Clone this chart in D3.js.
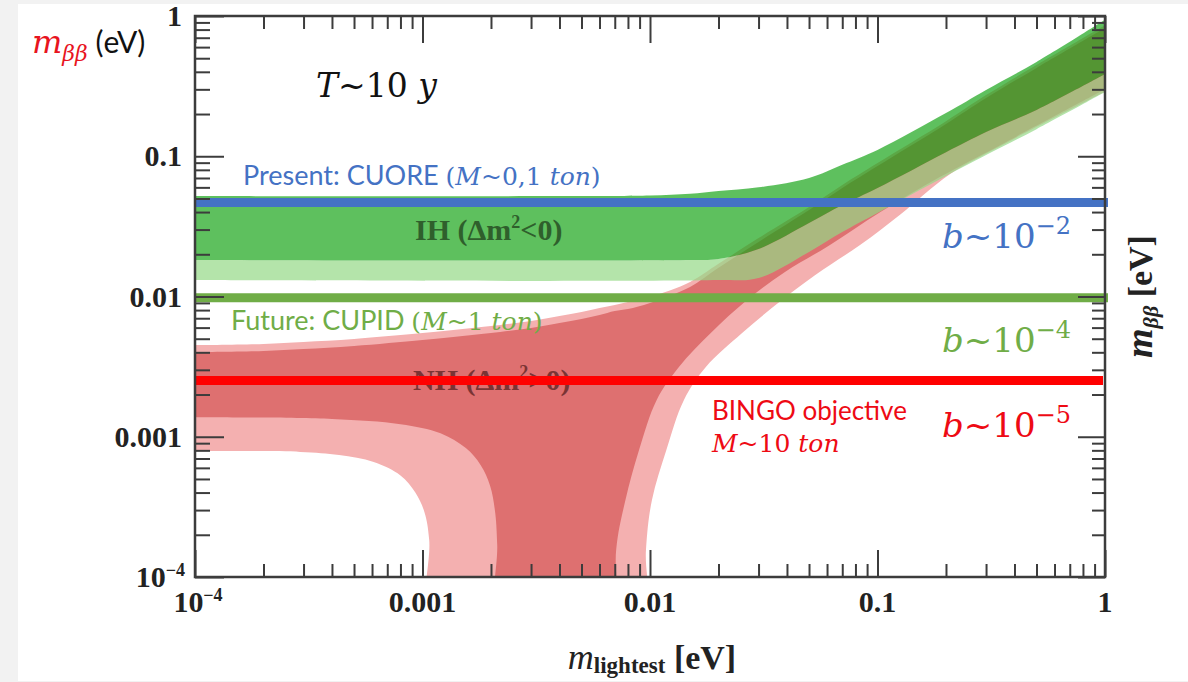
<!DOCTYPE html>
<html>
<head>
<meta charset="utf-8">
<script src="https://cdn.jsdelivr.net/npm/d3@7"></script>
<style>
  body { margin: 0; background: #f2f2f2; }
  svg { display: block; }
</style>
</head>
<body>
<svg id="chart" width="1188" height="682"></svg>
<script>
'use strict';

// ---- data (eV) ----
var majorTicks = [1e-4, 1e-3, 1e-2, 1e-1, 1];
var tickLabels = [['10', '\u22124'], ['0.001'], ['0.01'], ['0.1'], ['1']];

// inverted hierarchy band [m_lightest, m_bb]
var ihTop = [[1e-4, 0.052], [0.005, 0.052], [0.01, 0.0525], [0.015, 0.054], [0.02, 0.0565], [0.03, 0.060],
  [0.05, 0.070], [0.07, 0.087], [0.1, 0.111], [0.2, 0.203], [0.3, 0.297], [0.5, 0.47], [1, 0.94]];
var ihDarkLow = [[1e-4, 0.0182], [0.015, 0.0182], [0.02, 0.0185], [0.03, 0.0218], [0.05, 0.0334],
  [0.07, 0.0449], [0.1, 0.0594], [0.2, 0.107], [0.3, 0.149], [0.5, 0.214], [1, 0.386]];
var ihLightLow = [[1e-4, 0.0131], [0.02, 0.0131], [0.03, 0.01355], [0.05, 0.0208], [0.07, 0.0288],
  [0.1, 0.0394], [0.2, 0.0723], [0.3, 0.102], [0.5, 0.156], [1, 0.287]];

// normal hierarchy band
var nhLightTop = [[1e-4, 0.00451], [2e-4, 0.00459], [3e-4, 0.00474], [5e-4, 0.00498], [1e-3, 0.00549],
  [1.5e-3, 0.00586], [2e-3, 0.00616], [3e-3, 0.00669], [4e-3, 0.00726], [5e-3, 0.00775], [6e-3, 0.00828],
  [7e-3, 0.00869], [8e-3, 0.00914], [0.01, 0.00992], [0.015, 0.0127], [0.02, 0.0171], [0.03, 0.0261],
  [0.05, 0.0435], [0.07, 0.0624], [0.1, 0.0895], [0.2, 0.178], [0.3, 0.273], [0.5, 0.447], [1, 0.86]];
var nhDarkTop = [[1e-4, 0.00402], [2e-4, 0.00409], [3e-4, 0.00422], [5e-4, 0.00444], [1e-3, 0.0049],
  [1.5e-3, 0.00523], [2e-3, 0.00549], [3e-3, 0.00596], [4e-3, 0.00647], [5e-3, 0.00691], [6e-3, 0.00738],
  [7e-3, 0.00788], [8e-3, 0.00814], [0.01, 0.00899], [0.015, 0.0117], [0.02, 0.016], [0.03, 0.0245],
  [0.05, 0.0414], [0.07, 0.0594], [0.1, 0.0852], [0.2, 0.170], [0.3, 0.260], [0.5, 0.426], [1, 0.82]];
// lower edges drop through zero (below the axis) in the cancellation funnel
var nhDarkLow = [[1e-4, 0.00138], [4e-4, 0.00134], [8e-4, 0.00123], [1.2e-3, 0.00106], [1.55e-3, 0.00083],
  [1.8e-3, 0.00063], [1.98e-3, 0.00045], [2.08e-3, 0.0003], [2.13e-3, 0.00017], [2.15e-3, 1e-5],
  [6.8e-3, 1e-5], [7.1e-3, 0.000156], [7.8e-3, 0.000354], [8.95e-3, 0.000804], [0.0107, 0.00183],
  [0.0134, 0.00314], [0.0185, 0.00549], [0.0267, 0.00944], [0.0392, 0.01495], [0.0618, 0.0233],
  [0.103, 0.040], [0.188, 0.071], [0.346, 0.12], [1, 0.30]];
var nhLightLow = [[1e-4, 0.00079], [2.9e-4, 0.00078], [4.3e-4, 0.00074], [6.1e-4, 0.00066], [8e-4, 0.00053],
  [9.3e-4, 0.0004], [1.02e-3, 0.00029], [1.07e-3, 0.000184], [1.1e-3, 1e-5], [9.3e-3, 1e-5],
  [9.6e-3, 0.000156], [0.0102, 0.000354], [0.0118, 0.000804], [0.0141, 0.00183], [0.0176, 0.00314],
  [0.0254, 0.00549], [0.038, 0.00944], [0.0531, 0.0142], [0.0838, 0.0233], [0.126, 0.0385],
  [0.208, 0.0745], [0.346, 0.118], [1, 0.29]];

// sensitivity lines
var limitNames = ['CUORE', 'CUPID', 'BINGO'];
var limitValues = [0.0468, 0.0098, 0.00252];
var limitColors = ['#4472c4', '#70ad47', '#ff0000'];

// ---- layout ----
var svg = d3.select('#chart');
svg.append('rect').attr('x', 18).attr('y', 4).attr('width', 1170).attr('height', 677).attr('fill', '#fff');

var W = 910, H = 561;
var g = svg.append('g').attr('transform', 'translate(195,16)');

var x = d3.scaleLog().domain([1e-4, 1]).range([0, W]);
var y = d3.scaleLog().domain([1e-4, 1]).range([H, 0]);

g.append('clipPath').attr('id', 'plotclip').append('rect').attr('width', W).attr('height', H);

var edge = d3.line()
  .x(function (d) { return x(d[0]); })
  .y(function (d) { return y(d[1]); })
  .curve(d3.curveCatmullRom.alpha(0.5));

function band(upper, lower) {
  var a = edge(upper);
  var b = edge(lower.slice().reverse());
  return a + 'L' + b.slice(1) + 'Z';
}

var bands = g.append('g').attr('clip-path', 'url(#plotclip)');
bands.append('path').attr('d', band(nhLightTop, nhLightLow)).attr('fill', '#f4b0b0');
bands.append('path').attr('d', band(nhDarkTop, nhDarkLow)).attr('fill', '#de7070');
bands.append('path').attr('d', band(ihDarkLow, ihLightLow)).attr('fill', '#94d886').attr('fill-opacity', 0.7);
bands.append('path').attr('d', band(ihTop, ihDarkLow)).attr('fill', '#1aa51a').attr('fill-opacity', 0.7);

// ---- helper for mixed-font text ----
function rich(parent, px, py, parts, anchor) {
  var t = parent.append('text').attr('x', px).attr('y', py).attr('text-anchor', anchor || 'start');
  parts.forEach(function (p) {
    var s = t.append('tspan').text(p.t);
    if (p.f) s.attr('font-family', p.f);
    if (p.s) s.attr('font-size', p.s);
    if (p.i) s.attr('font-style', 'italic');
    if (p.w) s.attr('font-weight', p.w);
    if (p.dy) s.attr('dy', p.dy);
    if (p.c) s.attr('fill', p.c);
  });
  return t;
}

var SERIF = 'Liberation Serif, serif';
var MATH = 'DejaVu Serif, serif';
var SANS = 'Lato, sans-serif';

// band labels
rich(g, 220, 224, [
  { t: 'IH (\u0394m', f: SERIF, s: 30, w: 'bold' },
  { t: '2', f: SERIF, s: 18, w: 'bold', dy: -12 },
  { t: '<0)', f: SERIF, s: 30, w: 'bold', dy: 12 }
]).attr('fill', '#2f5f2c');
rich(g, 218, 374, [
  { t: 'NH (\u0394m', f: SERIF, s: 30, w: 'bold' },
  { t: '2', f: SERIF, s: 18, w: 'bold', dy: -12 },
  { t: '>0)', f: SERIF, s: 30, w: 'bold', dy: 12 }
]).attr('fill', '#7a3434');

// sensitivity lines
g.selectAll('line.limit')
  .data(limitValues)
  .enter().append('line')
  .attr('class', 'limit')
  .attr('x1', 0)
  .attr('x2', function (d, i) { return i === 2 ? W - 2 : W + 3; })
  .attr('y1', function (d) { return y(d); })
  .attr('y2', function (d) { return y(d); })
  .attr('stroke', function (d, i) { return limitColors[i]; })
  .attr('stroke-width', 9);

// ---- axes (ticks point inward on all four sides) ----
var allTicks = x.ticks();
function isMajor(v) { var l = Math.log10(v); return Math.abs(l - Math.round(l)) < 1e-6; }
var minorTicks = allTicks.filter(function (v) { return !isMajor(v); });

function styleAxis(sel) {
  sel.select('.domain').remove();
  sel.selectAll('line').attr('stroke', '#3c3c3c').attr('stroke-width', 2);
  sel.selectAll('text').remove();
}

[[minorTicks, 13], [majorTicks, 27]].forEach(function (set) {
  g.append('g').attr('transform', 'translate(0,' + H + ')')
    .call(d3.axisTop(x).tickValues(set[0]).tickSize(set[1])).call(styleAxis);
  g.append('g')
    .call(d3.axisBottom(x).tickValues(set[0]).tickSize(set[1])).call(styleAxis);
  g.append('g').attr('transform', 'translate(' + W + ',0)')
    .call(d3.axisLeft(y).tickValues(set[0]).tickSize(set[1])).call(styleAxis);
  g.append('g')
    .call(d3.axisRight(y).tickValues(set[0]).tickSize(set[1] + 2)).call(styleAxis);
});

g.append('rect').attr('width', W).attr('height', H)
  .attr('fill', 'none').attr('stroke', '#3c3c3c').attr('stroke-width', 2.5);

// tick labels
majorTicks.forEach(function (v, i) {
  var lab = tickLabels[i];
  var partsX = [{ t: lab[0], f: SERIF, s: 30, w: 'bold' }];
  if (lab[1]) partsX.push({ t: lab[1], f: SERIF, s: 18, w: 'bold', dy: -11 });
  rich(g, x(v) + (lab[1] ? 3 : 0), H + 35, partsX, 'middle').attr('fill', '#222');
  var partsY = [{ t: lab[0], f: SERIF, s: 30, w: 'bold' }];
  if (lab[1]) partsY.push({ t: lab[1], f: SERIF, s: 18, w: 'bold', dy: -11 });
  rich(g, lab[1] ? -10 : -13, y(v) + 10, partsY, 'end').attr('fill', '#222');
});

// axis titles
rich(g, W / 2 + 2, H + 92, [
  { t: 'm', f: SERIF, s: 36, i: true },
  { t: 'lightest', f: SERIF, s: 23, w: 'bold', dy: 4 },
  { t: ' [eV]', f: SERIF, s: 34, w: 'bold', dy: -4 }
], 'middle').attr('fill', '#222');

rich(g, 0, 0, [
  { t: 'm', f: SERIF, s: 38, i: true, w: 'bold' },
  { t: '\u03b2\u03b2', f: SERIF, s: 22, i: true, w: 'bold', dy: 6 },
  { t: ' [eV]', f: SERIF, s: 34, w: 'bold', dy: -6 }
], 'middle').attr('fill', '#222')
  .attr('transform', 'translate(' + (W + 47) + ',' + (H / 2) + ') rotate(-90)');

// ---- annotations ----
rich(svg, 32, 53, [
  { t: 'm', f: MATH, s: 32, i: true, c: '#e8141e' },
  { t: '\u03b2\u03b2', f: MATH, s: 22, i: true, c: '#e8141e', dy: 8 },
  { t: ' (eV)', f: SANS, s: 30, c: '#111', dy: -8 }
]);

rich(g, 121, 81, [
  { t: 'T', f: MATH, s: 33, i: true },
  { t: '~10 ', f: MATH, s: 33 },
  { t: 'y', f: MATH, s: 33, i: true }
]).attr('fill', '#111');

rich(g, 48, 169, [
  { t: 'Present: CUORE ', f: SANS, s: 27 },
  { t: '(', f: MATH, s: 25 },
  { t: 'M', f: MATH, s: 25, i: true },
  { t: '~0,1 ', f: MATH, s: 25 },
  { t: 'ton', f: MATH, s: 25, i: true },
  { t: ')', f: MATH, s: 25 }
]).attr('fill', limitColors[0]);

rich(g, 36, 314, [
  { t: 'Future: CUPID ', f: SANS, s: 27 },
  { t: '(', f: MATH, s: 25 },
  { t: 'M', f: MATH, s: 25, i: true },
  { t: '~1 ', f: MATH, s: 25 },
  { t: 'ton', f: MATH, s: 25, i: true },
  { t: ')', f: MATH, s: 25 }
]).attr('fill', limitColors[1]);

rich(g, 517, 404, [{ t: 'BINGO objective', f: SANS, s: 26 }]).attr('fill', '#ee0a14');
rich(g, 517, 436, [
  { t: 'M', f: MATH, s: 25, i: true },
  { t: '~10 ', f: MATH, s: 25 },
  { t: 'ton', f: MATH, s: 25, i: true }
]).attr('fill', '#ee0a14');

var bExps = ['\u22122', '\u22124', '\u22125'];
var bBase = [232, 336, 421];
bExps.forEach(function (e, i) {
  rich(g, 747, bBase[i], [
    { t: 'b', f: MATH, s: 34, i: true },
    { t: '~10', f: MATH, s: 34 },
    { t: e, f: MATH, s: 24, dy: -14 }
  ]).attr('fill', i === 2 ? '#ee0a14' : limitColors[i]);
});
</script>
</body>
</html>
